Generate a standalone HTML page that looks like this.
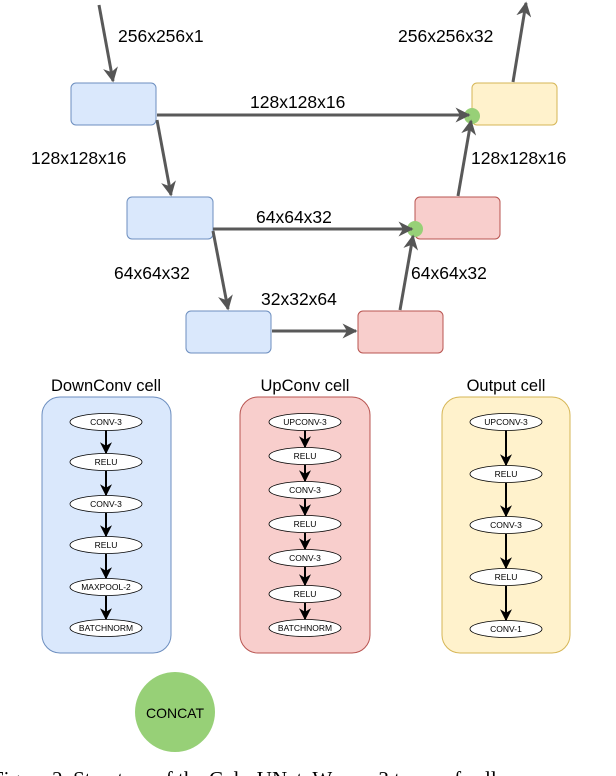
<!DOCTYPE html>
<html><head><meta charset="utf-8"><style>
body{margin:0;background:#fff;width:616px;height:776px;overflow:hidden}
svg{display:block}
text{font-family:"Liberation Sans",sans-serif}
</style></head><body>
<svg width="616" height="776" viewBox="0 0 616 776" xmlns="http://www.w3.org/2000/svg">
<defs>
<marker id="a" viewBox="0 0 10 10" refX="9" refY="5" markerWidth="5" markerHeight="5" orient="auto"><path d="M0,0 L10,5 L0,10 L3,5 z" fill="#555"/></marker>
<marker id="b" viewBox="0 0 10 10" refX="9" refY="5" markerWidth="6" markerHeight="6" orient="auto"><path d="M0,0 L10,5 L0,10 L3,5 z" fill="#000"/></marker>
</defs>
<g stroke-width="1">
<rect x="71" y="83" width="85" height="42" rx="5" fill="#dae8fc" stroke="#6c8ebf"/>
<rect x="127" y="197" width="86" height="42" rx="5" fill="#dae8fc" stroke="#6c8ebf"/>
<rect x="186" y="311" width="85" height="42" rx="5" fill="#dae8fc" stroke="#6c8ebf"/>
<rect x="358" y="311" width="85" height="42" rx="5" fill="#f8cecc" stroke="#b85450"/>
<rect x="415" y="197" width="85" height="42" rx="5" fill="#f8cecc" stroke="#b85450"/>
<rect x="472" y="83" width="85" height="42" rx="5" fill="#fff2cc" stroke="#d6b656"/>
</g>
<circle cx="472" cy="116" r="8" fill="#97d077"/>
<circle cx="415" cy="229" r="8" fill="#97d077"/>
<g stroke="#595959" stroke-width="3" fill="none" marker-end="url(#a)">
<line x1="99" y1="5" x2="113" y2="81"/>
<line x1="157" y1="115" x2="469" y2="115"/>
<line x1="157" y1="120" x2="171" y2="195"/>
<line x1="213" y1="229" x2="412" y2="229"/>
<line x1="213" y1="231" x2="228" y2="309"/>
<line x1="272" y1="331" x2="356" y2="331"/>
<line x1="400" y1="310" x2="413" y2="236"/>
<line x1="458" y1="196" x2="471" y2="121"/>
<line x1="513" y1="82" x2="526" y2="3"/>
</g>
<g font-size="17.5" fill="#000">
<text x="118" y="42">256x256x1</text>
<text x="398" y="42">256x256x32</text>
<text x="250" y="108">128x128x16</text>
<text x="31" y="164">128x128x16</text>
<text x="471" y="164">128x128x16</text>
<text x="256" y="223">64x64x32</text>
<text x="114" y="279">64x64x32</text>
<text x="411" y="279">64x64x32</text>
<text x="261" y="305">32x32x64</text>
</g>
<g font-size="16.5" text-anchor="middle">
<text x="106" y="391">DownConv cell</text>
<text x="305" y="391">UpConv cell</text>
<text x="506" y="391">Output cell</text>
</g>
<rect x="42" y="397" width="129" height="256" rx="18" fill="#dae8fc" stroke="#6c8ebf"/>
<rect x="240" y="397" width="130" height="256" rx="18" fill="#f8cecc" stroke="#b85450"/>
<rect x="442" y="397" width="128" height="256" rx="18" fill="#fff2cc" stroke="#d6b656"/>
<g stroke="#000" stroke-width="2" marker-end="url(#b)">
<line x1="106" y1="430" x2="106" y2="453"/>
<line x1="106" y1="471" x2="106" y2="495"/>
<line x1="106" y1="513" x2="106" y2="536"/>
<line x1="106" y1="554" x2="106" y2="578"/>
<line x1="106" y1="596" x2="106" y2="619"/>
<line x1="305" y1="430" x2="305" y2="447"/>
<line x1="305" y1="465" x2="305" y2="481"/>
<line x1="305" y1="499" x2="305" y2="515"/>
<line x1="305" y1="533" x2="305" y2="549"/>
<line x1="305" y1="567" x2="305" y2="585"/>
<line x1="305" y1="603" x2="305" y2="619"/>
<line x1="506" y1="430" x2="506" y2="465"/>
<line x1="506" y1="483" x2="506" y2="516"/>
<line x1="506" y1="534" x2="506" y2="568"/>
<line x1="506" y1="586" x2="506" y2="620"/>
</g>
<g fill="#fff" stroke="#000" stroke-width="0.8">
<ellipse cx="106" cy="422" rx="36" ry="8.5"/>
<ellipse cx="106" cy="462" rx="36" ry="8.5"/>
<ellipse cx="106" cy="504" rx="36" ry="8.5"/>
<ellipse cx="106" cy="545" rx="36" ry="8.5"/>
<ellipse cx="106" cy="587" rx="36" ry="8.5"/>
<ellipse cx="106" cy="628" rx="36" ry="8.5"/>
<ellipse cx="305" cy="422" rx="36" ry="8.5"/>
<ellipse cx="305" cy="456" rx="36" ry="8.5"/>
<ellipse cx="305" cy="490" rx="36" ry="8.5"/>
<ellipse cx="305" cy="524" rx="36" ry="8.5"/>
<ellipse cx="305" cy="558" rx="36" ry="8.5"/>
<ellipse cx="305" cy="594" rx="36" ry="8.5"/>
<ellipse cx="305" cy="628" rx="36" ry="8.5"/>
<ellipse cx="506" cy="422" rx="36" ry="8.5"/>
<ellipse cx="506" cy="474" rx="36" ry="8.5"/>
<ellipse cx="506" cy="525" rx="36" ry="8.5"/>
<ellipse cx="506" cy="577" rx="36" ry="8.5"/>
<ellipse cx="506" cy="629" rx="36" ry="8.5"/>
</g>
<g font-size="8.5" text-anchor="middle" fill="#000">
<text x="106" y="425">CONV-3</text>
<text x="106" y="465">RELU</text>
<text x="106" y="507">CONV-3</text>
<text x="106" y="548">RELU</text>
<text x="106" y="590">MAXPOOL-2</text>
<text x="106" y="631">BATCHNORM</text>
<text x="305" y="425">UPCONV-3</text>
<text x="305" y="459">RELU</text>
<text x="305" y="493">CONV-3</text>
<text x="305" y="527">RELU</text>
<text x="305" y="561">CONV-3</text>
<text x="305" y="597">RELU</text>
<text x="305" y="631">BATCHNORM</text>
<text x="506" y="425">UPCONV-3</text>
<text x="506" y="477">RELU</text>
<text x="506" y="528">CONV-3</text>
<text x="506" y="580">RELU</text>
<text x="506" y="632">CONV-1</text>
</g>
<ellipse cx="175" cy="712" rx="40" ry="40" fill="#97d077"/>
<text x="175" y="718" font-size="14" text-anchor="middle">CONCAT</text>
<text x="-8" y="786" font-size="21" style="font-family:'Liberation Serif',serif">Figure 2. Structure of the ColorUNet. We use 3 types of cells</text>
</svg>
</body></html>
